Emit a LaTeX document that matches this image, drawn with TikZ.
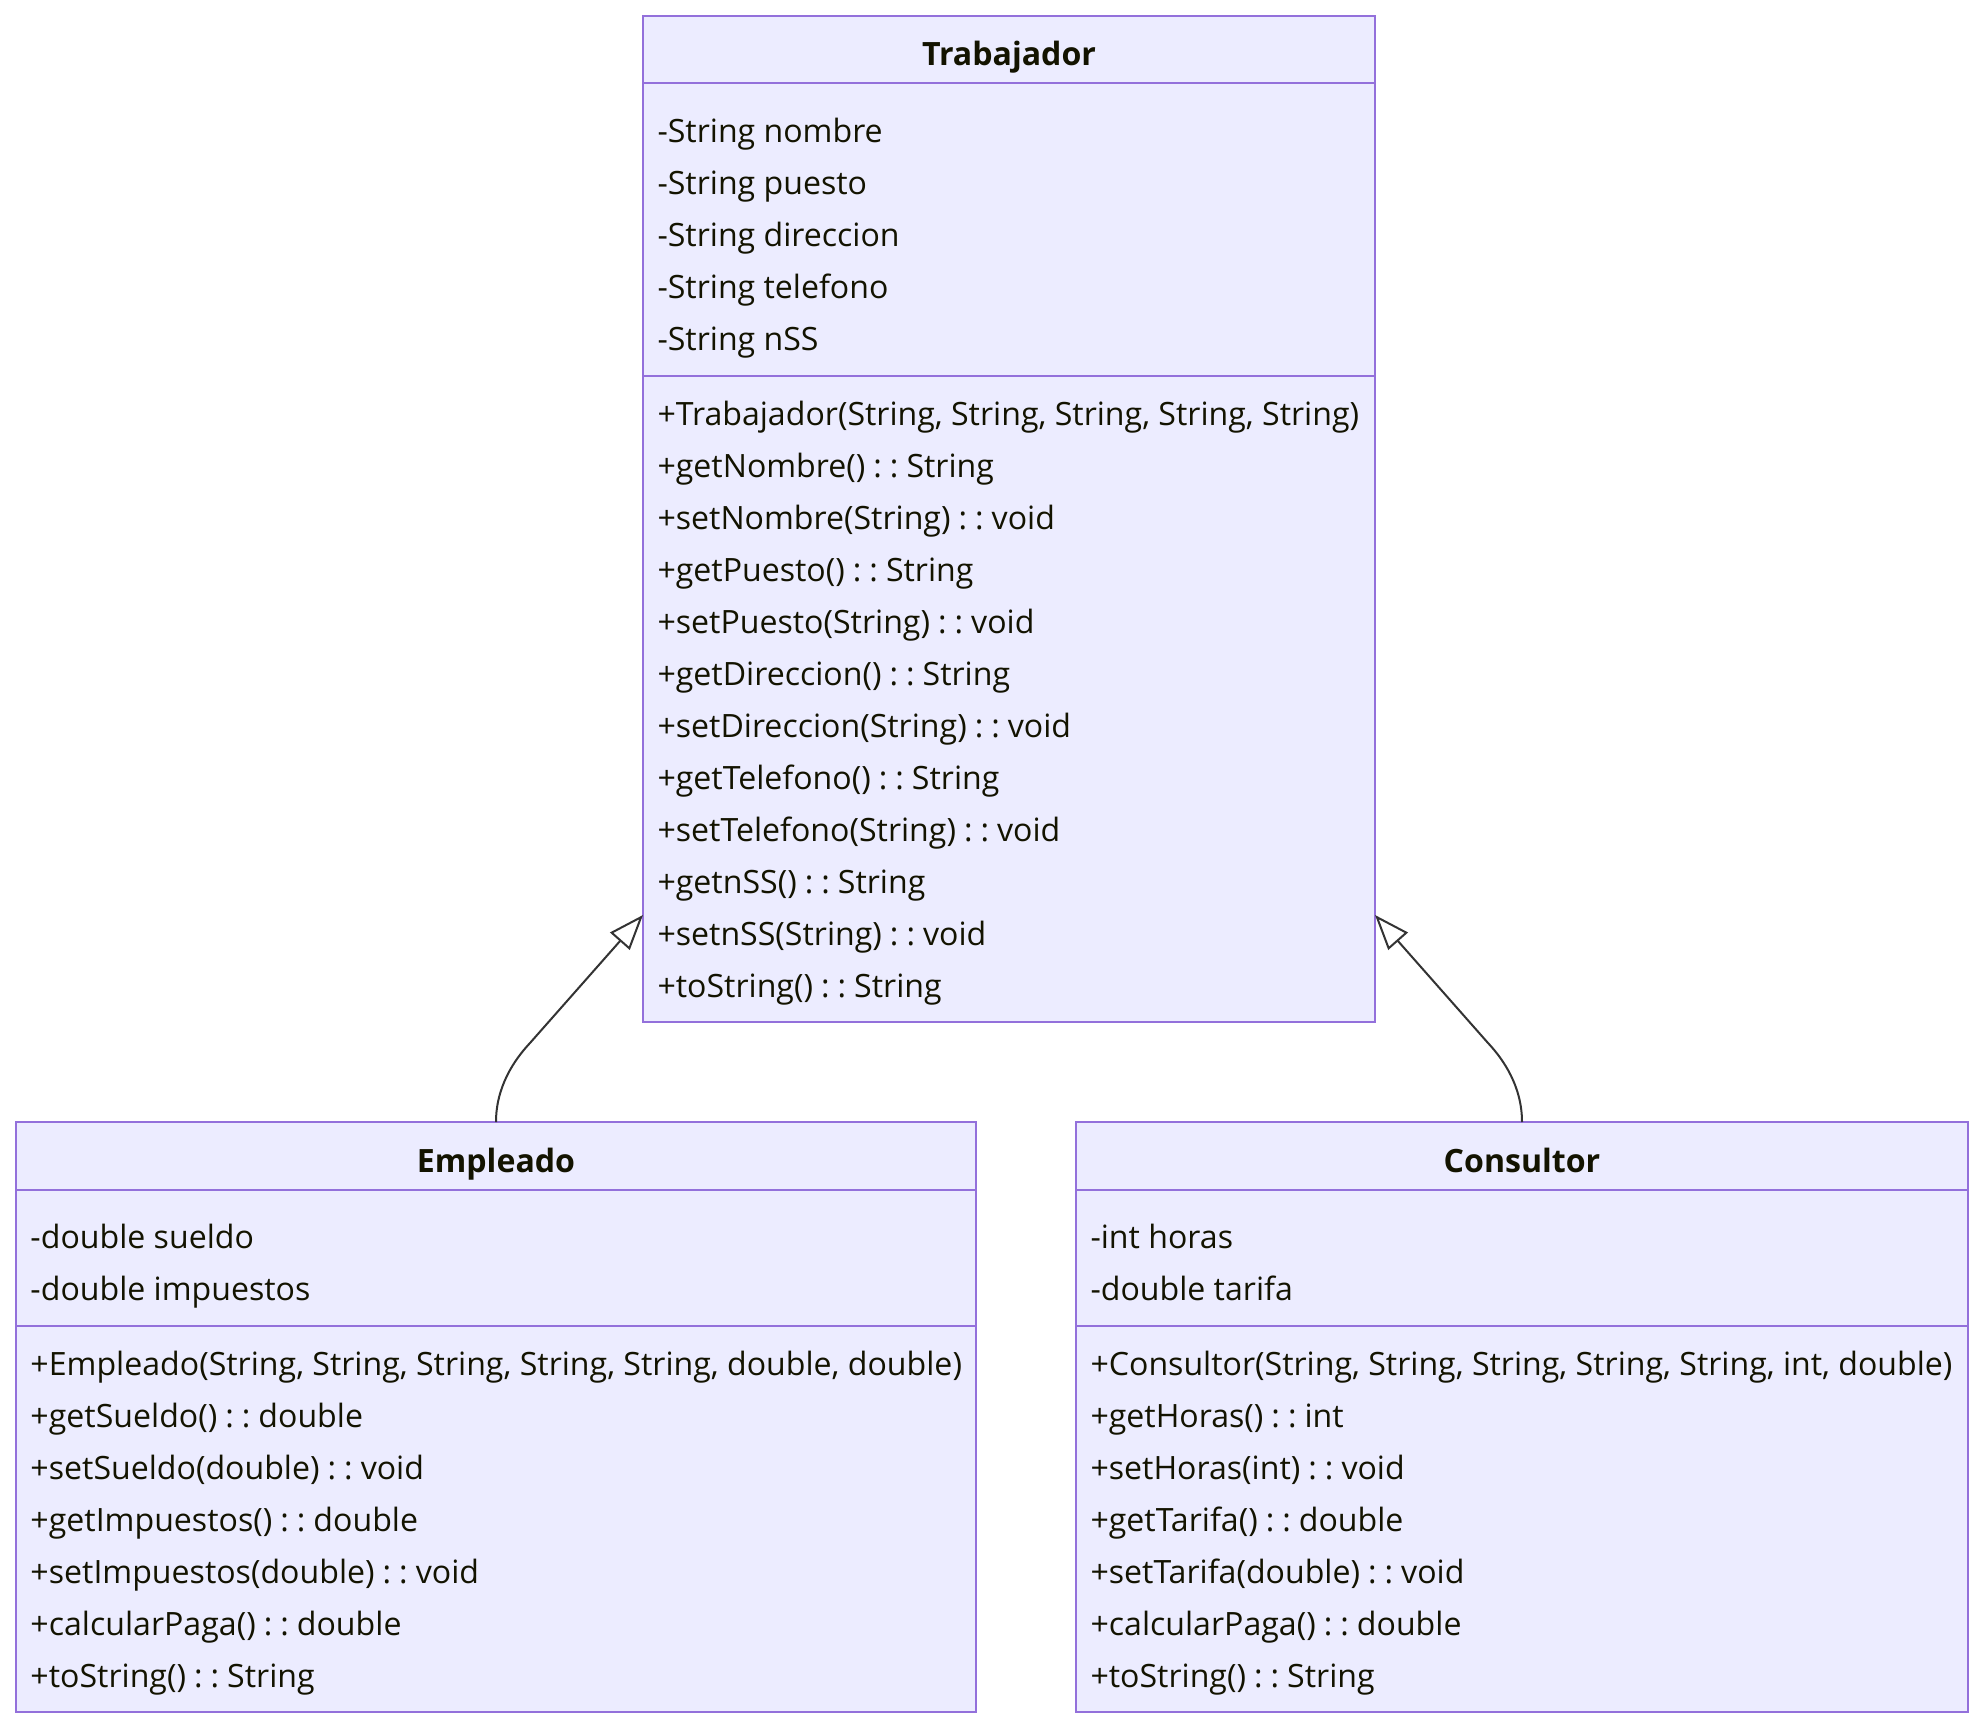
\documentclass[tikz,border=0pt]{standalone}
\usepackage{fontspec}
\setmainfont{Open Sans}
\usetikzlibrary{arrows.meta,calc}
\definecolor{boxfill}{HTML}{ECECFF}
\definecolor{boxline}{HTML}{9370DB}
\definecolor{txtc}{HTML}{131300}
\definecolor{edgec}{HTML}{333333}
\newcommand{\umlline}[4]{\node[txt] (#1) at (#2,#3) {#4};}
\newcommand{\cc}{\hspace{0.25em}:\hspace{0.25em}:\hspace{0.25em}}
\begin{document}
\begin{tikzpicture}[x=1pt,y=-1pt,
  box/.style={draw=boxline, fill=boxfill, line width=2.2pt, rectangle, anchor=north west, inner sep=0pt, outer sep=0pt},
  divider/.style={draw=boxline, line width=2.2pt},
  txt/.style={anchor=base west, inner sep=0pt, outer sep=0pt, yshift=-2.5pt, text=txtc, font=\fontsize{32.1}{38}\selectfont},
  title/.style={anchor=base, inner sep=0pt, outer sep=0pt, yshift=-2.5pt, text=txtc, font=\fontsize{32.1}{38}\selectfont\bfseries},
  edge/.style={draw=edgec, line width=2pt, -{Triangle[open, length=35pt, width=26pt, fill=white]}}
]
\useasboundingbox (0,0) rectangle (1984,1728);

% boxes
\node[box, minimum width=732pt, minimum height=1006pt] (T) at (643,16) {};
\node[box, minimum width=960pt, minimum height=590pt] (E) at (16,1122) {};
\node[box, minimum width=892pt, minimum height=590pt] (C) at (1076,1122) {};

% dividers
\draw[divider] (T.west |- 0,83) -- (T.east |- 0,83);
\draw[divider] (T.west |- 0,376) -- (T.east |- 0,376);
\draw[divider] (E.west |- 0,1190) -- (E.east |- 0,1190);
\draw[divider] (E.west |- 0,1326) -- (E.east |- 0,1326);
\draw[divider] (C.west |- 0,1190) -- (C.east |- 0,1190);
\draw[divider] (C.west |- 0,1326) -- (C.east |- 0,1326);

% titles
\node[title] (Tt) at (1009,63) {Trabajador};
\node[title] (Et) at (496,1170) {Empleado};
\node[title] (Ct) at (1522,1170) {Consultor};

% Trabajador
\umlline{ta1}{657.5}{140}{-String nombre}
\umlline{ta2}{657.5}{192}{-String puesto}
\umlline{ta3}{657.5}{244}{-String direccion}
\umlline{ta4}{657.5}{296}{-String telefono}
\umlline{ta5}{657.5}{348}{-String nSS}
\umlline{tm1}{657.5}{423}{+Trabajador(String, String, String, String, String)}
\umlline{tm2}{657.5}{475}{+getNombre()\cc String}
\umlline{tm3}{657.5}{527}{+setNombre(String)\cc void}
\umlline{tm4}{657.5}{579}{+getPuesto()\cc String}
\umlline{tm5}{657.5}{631}{+setPuesto(String)\cc void}
\umlline{tm6}{657.5}{683}{+getDireccion()\cc String}
\umlline{tm7}{657.5}{735}{+setDireccion(String)\cc void}
\umlline{tm8}{657.5}{787}{+getTelefono()\cc String}
\umlline{tm9}{657.5}{839}{+setTelefono(String)\cc void}
\umlline{tm10}{657.5}{891}{+getnSS()\cc String}
\umlline{tm11}{657.5}{943}{+setnSS(String)\cc void}
\umlline{tm12}{657.5}{995}{+toString()\cc String}

% Empleado
\umlline{ea1}{30.5}{1246}{-double sueldo}
\umlline{ea2}{30.5}{1298}{-double impuestos}
\umlline{em1}{30.5}{1373}{+Empleado(String, String, String, String, String, double, double)}
\umlline{em2}{30.5}{1425}{+getSueldo()\cc double}
\umlline{em3}{30.5}{1477}{+setSueldo(double)\cc void}
\umlline{em4}{30.5}{1529}{+getImpuestos()\cc double}
\umlline{em5}{30.5}{1581}{+setImpuestos(double)\cc void}
\umlline{em6}{30.5}{1633}{+calcularPaga()\cc double}
\umlline{em7}{30.5}{1685}{+toString()\cc String}

% Consultor
\umlline{ca1}{1090.5}{1246}{-int horas}
\umlline{ca2}{1090.5}{1298}{-double tarifa}
\umlline{cm1}{1090.5}{1373}{+Consultor(String, String, String, String, String, int, double)}
\umlline{cm2}{1090.5}{1425}{+getHoras()\cc int}
\umlline{cm3}{1090.5}{1477}{+setHoras(int)\cc void}
\umlline{cm4}{1090.5}{1529}{+getTarifa()\cc double}
\umlline{cm5}{1090.5}{1581}{+setTarifa(double)\cc void}
\umlline{cm6}{1090.5}{1633}{+calcularPaga()\cc double}
\umlline{cm7}{1090.5}{1685}{+toString()\cc String}

% connectors
\coordinate (TinL) at ($(T.south west)+(0,-107)$);
\coordinate (TinR) at ($(T.south east)+(0,-107)$);
\draw[edge] (E.north) .. controls ($(E.north)+(0,-35)$) and ($(E.north)+(18,-62)$) .. ($(E.north)+(34,-79)$) -- (TinL);
\draw[edge] (C.north) .. controls ($(C.north)+(0,-35)$) and ($(C.north)+(-18,-62)$) .. ($(C.north)+(-34,-79)$) -- (TinR);
\end{tikzpicture}
\end{document}
